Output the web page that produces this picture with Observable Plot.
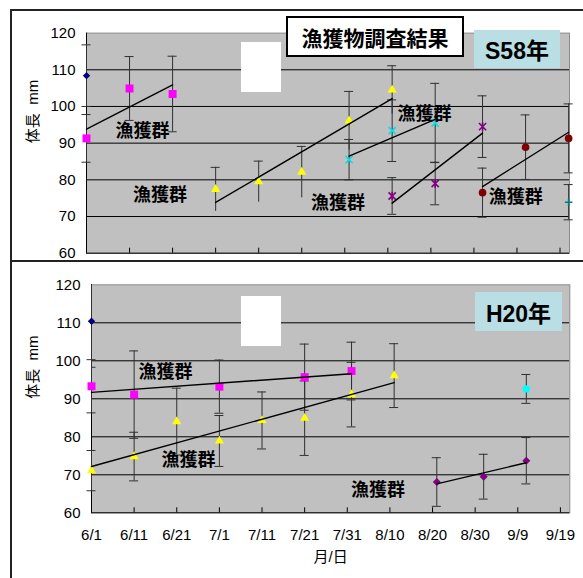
<!DOCTYPE html>
<html><head><meta charset="utf-8">
<script src="https://cdn.jsdelivr.net/npm/d3@7"></script>
<script src="https://cdn.jsdelivr.net/npm/@observablehq/plot@0.6"></script>
<style>
html,body{margin:0;padding:0;background:#fff;}
#wrap{position:relative;width:583px;height:578px;overflow:hidden;background:#fff;font-family:"Liberation Sans",Arial,sans-serif;}
.abs{position:absolute;}
#top,#bottom{position:absolute;left:0;}
#top{top:0;} #bottom{top:261px;}
.ln{position:absolute;background:#222;z-index:5;}
.wbox{position:absolute;background:#fff;z-index:4;}
.title{position:absolute;z-index:6;background:#fff;border:2px solid #000;box-sizing:border-box;font-family:"Noto Sans CJK JP",sans-serif;font-weight:700;font-size:21px;display:flex;align-items:center;justify-content:center;color:#000;}
.year{position:absolute;z-index:6;background:#B9DEE4;font-family:"Liberation Sans","Noto Sans CJK JP",sans-serif;font-weight:700;font-size:23px;display:flex;align-items:center;justify-content:center;color:#000;}
</style></head><body>
<div id="wrap">
  <div id="top"></div>
  <div id="bottom"></div>
  <div class="ln" style="left:10px;top:9px;width:573px;height:2px;"></div>
  <div class="ln" style="left:10px;top:9px;width:2px;height:569px;"></div>
  <div class="ln" style="left:10px;top:260px;width:573px;height:2px;"></div>
  <div class="wbox" style="left:241px;top:42px;width:40px;height:50px;"></div>
  <div class="wbox" style="left:241px;top:296px;width:40px;height:50px;"></div>
  <div class="title" id="mainTitle" style="left:286px;top:16px;width:178px;height:41px;"></div>
  <div class="year" id="yearTop" style="left:474px;top:30px;width:86px;height:38px;"></div>
  <div class="year" id="yearBottom" style="left:475px;top:292px;width:87px;height:39px;"></div>
</div>
<script>
// ---- axis / text data ----
const tickDays = [0,10,20,30,40,50,60,70,80,90,100,110];          // days since 6/1
const tickLabels = ["6/1","6/11","6/21","7/1","7/11","7/21","7/31","8/10","8/20","8/30","9/9","9/19"];
const yTicks = [60,70,80,90,100,110,120];
const gridValues = [70,80,90,100,110];
const titleText = "漁獲物調査結果";
const yearTopText = "S58年";
const yearBottomText = "H20年";
const yAxisTitle = "体長  mm";
const xAxisTitle = "月/日";
const groupLabel = "漁獲群";

// ---- S58 panel: [day since 6/1, mean length mm, error mm] ----
const s58Navy    = [[0,108.4,8.4]];
const s58Magenta = [[0,91.3,6.5],[10,104.9,8.7],[20,103.4,10.3]];
const s58Yellow  = [[30,77.4,6.0],[40,79.5,5.6],[50,82.1,7.0],[61,96.1,8.0],[71,104.5,6.6]];
const s58Cyan    = [[61,85.5,5.5],[71,93.4,8.4],[81,95.5,10.8]];
const s58Purple  = [[71,75.6,5.0],[81,79.0,5.8],[92,94.5,8.4]];
const s58DarkRed = [[92,76.5,6.7],[102,88.9,8.8],[112,91.3,9.4]];
const s58Teal    = [[112,73.9,4.8]];
const s58LabelPos = [[13.0,93.2],[17.1,75.8],[58.4,73.7],[78.5,97.8],[99.7,75.3]];

// ---- H20 panel ----
const h20Navy    = [[0,110.4,12.1]];
const h20Magenta = [[0,93.3,7.0],[10,91.1,11.5],[30,93.2,7.0],[50,95.7,8.7],[61,97.3,7.6]];
const h20Yellow  = [[0,71.1,5.3],[10,74.8,6.4],[20,84.0,8.8],[30,78.9,6.7],[40,84.3,7.5],[50,84.9,9.8],[61,91.1,8.5],[71,96.1,8.4]];
const h20Cyan    = [[102,92.6,3.8]];
const h20Purple  = [[81,68.1,6.4],[92,69.5,5.9],[102,73.7,6.1]];
const h20LabelPos = [[17.35,97.05],[22.75,73.8],[67.2,65.9]];

// ---- custom symbols ----
const rOf = s => Math.sqrt(s/Math.PI);
const symTimes = {draw(c,s){const r=rOf(s);c.moveTo(-r,-r);c.lineTo(r,r);c.moveTo(-r,r);c.lineTo(r,-r);}};
const symStar  = {draw(c,s){const r=rOf(s);c.moveTo(-r,-r);c.lineTo(r,r);c.moveTo(-r,r);c.lineTo(r,-r);c.moveTo(0,-r*1.2);c.lineTo(0,r*1.2);}};
const symPlus  = {draw(c,s){const r=rOf(s);c.moveTo(-r,0);c.lineTo(r,0);c.moveTo(0,-r);c.lineTo(0,r);}};

const s58Series = [
  {data:s58Navy, symbol:"diamond2", fill:"#000080", r:3.3, reg:false},
  {data:s58Magenta, symbol:"square", fill:"#FF00FF", r:4.5, reg:true},
  {data:s58Yellow, symbol:"triangle", fill:"#FFFF00", r:3.4, reg:true, lowerCap:false},
  {data:s58Cyan, symbol:symTimes, stroke:"#00E0E8", r:3.6, reg:true},
  {data:s58Purple, symbol:symStar, stroke:"#800080", r:3.6, reg:true},
  {data:s58DarkRed, symbol:"circle", fill:"#800000", r:3.8, reg:true},
  {data:s58Teal, symbol:symPlus, stroke:"#008080", r:3.8, reg:false}
];
const h20Series = [
  {data:h20Navy, symbol:"diamond2", fill:"#000080", r:3.3, reg:false, clip:true},
  {data:h20Magenta, symbol:"square", fill:"#FF00FF", r:4.5, reg:true},
  {data:h20Yellow, symbol:"triangle", fill:"#FFFF00", r:3.4, reg:true},
  {data:h20Cyan, symbol:"circle", fill:"#00FFFF", r:3.7, reg:false},
  {data:h20Purple, symbol:"diamond2", fill:"#800080", r:3.6, reg:true}
];

const X = d => d[0], Y = d => d[1];
const barColor = "#303030";

function panel(cfg){
  const marks = [
    Plot.frame({fill:"#C0C0C0", stroke:null}),
    Plot.gridY(gridValues, {stroke:"#000", strokeOpacity:1, strokeWidth:1}),
    Plot.frame({stroke:"#8a8a8a"}),
    Plot.ruleX([0], {stroke:"#000"}),
    Plot.ruleY([60], {stroke:"#000"}),
    Plot.axisX(tickDays, {tickSize:5, dy:-5, tickFormat:()=> "", stroke:"#000", label:null}),
    Plot.axisY(yTicks, {tickSize:0, tickPadding:11, fontSize:15, fill:"#000", label:null})
  ];
  for (const s of cfg.series){
    const clip = !!s.clip;
    marks.push(Plot.ruleX(s.data, {x:X, y1:d=>d[1]-d[2], y2:d=>d[1]+d[2], stroke:barColor, clip}));
    marks.push(Plot.ruleY(s.data, {x1:X, x2:X, y:d=>d[1]+d[2], insetLeft:-4.5, insetRight:-4.5, stroke:barColor, clip}));
    if (s.lowerCap !== false)
      marks.push(Plot.ruleY(s.data, {x1:X, x2:X, y:d=>d[1]-d[2], insetLeft:-4.5, insetRight:-4.5, stroke:barColor, clip}));
  }
  for (const s of cfg.series){
    marks.push(Plot.dot(s.data, {x:X, y:Y, symbol:s.symbol, r:s.r,
      fill: s.fill ?? "none", stroke: s.stroke ?? "none", strokeWidth: s.stroke ? 1.6 : 0}));
  }
  for (const s of cfg.series){
    if (s.reg) marks.push(Plot.linearRegressionY(s.data, {x:X, y:Y, ci:0, stroke:"#000", strokeWidth:1.4}));
  }
  marks.push(Plot.text(cfg.labelPos, {x:X, y:Y, text:()=>groupLabel, fontSize:18, fontWeight:"bold",
    fontFamily:"'Noto Sans CJK JP', sans-serif", fill:"#000"}));
  marks.push(Plot.text([yAxisTitle], {frameAnchor:"left", dx:cfg.yTitleDx, rotate:-90, fontSize:15,
    fontFamily:"'Liberation Sans','Noto Sans CJK JP', sans-serif", fill:"#000"}));
  if (cfg.xLabels){
    marks.push(Plot.axisX(tickDays, {tickSize:0, tickPadding:17, fontSize:15, fill:"#000", label:null,
      tickFormat: d => tickLabels[tickDays.indexOf(d)]}));
    marks.push(Plot.text([xAxisTitle], {frameAnchor:"bottom", dy:49, fontSize:15,
      fontFamily:"'Liberation Sans','Noto Sans CJK JP', sans-serif", fill:"#000"}));
  }
  return Plot.plot({
    width:583, height:cfg.height,
    marginTop:cfg.mt, marginBottom:cfg.mb, marginLeft:cfg.ml, marginRight:cfg.mr,
    style:{background:"transparent", fontFamily:"'Liberation Sans', Arial, sans-serif", fontSize:"15px", color:"#000", overflow:"visible"},
    x:{domain:[0,112.2]},
    y:{domain:[60,120]},
    marks
  });
}

document.getElementById("top").append(panel({
  height:262, mt:32.6, mb:9.3, ml:86, mr:14, series:s58Series, labelPos:s58LabelPos, yTitleDx:-53, xLabels:false
}));
document.getElementById("bottom").append(panel({
  height:317, mt:23.3, mb:65.7, ml:91, mr:13.7, series:h20Series, labelPos:h20LabelPos, yTitleDx:-58, xLabels:true
}));
document.getElementById("mainTitle").textContent = titleText;
document.getElementById("yearTop").textContent = yearTopText;
document.getElementById("yearBottom").textContent = yearBottomText;
</script>
</body></html>
